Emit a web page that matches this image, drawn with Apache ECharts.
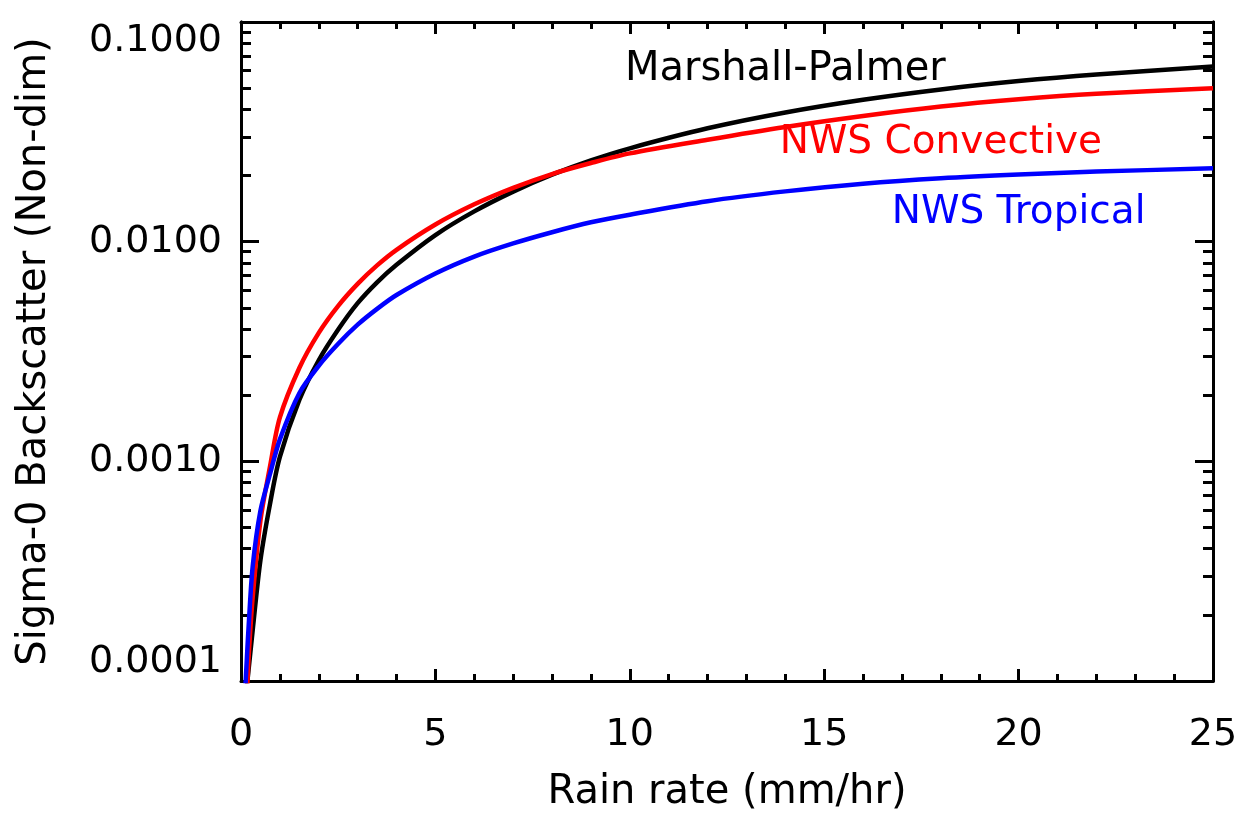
<!DOCTYPE html>
<html>
<head>
<meta charset="utf-8">
<title>Sigma-0 Backscatter vs Rain rate</title>
<script src="https://cdn.jsdelivr.net/npm/echarts@6/dist/echarts.min.js"></script>
<style>
  html, body { margin: 0; padding: 0; background: #ffffff; }
  #chart { width: 1239px; height: 819px; }
</style>
</head>
<body>
<div id="chart"></div>
<script>
// Rain rate samples (mm/hr)
const rainRate = [0.1, 0.15, 0.2, 0.3, 0.5, 0.75, 1, 1.5, 2, 2.5, 3, 3.5, 4, 5, 6, 7, 8, 9, 10, 12, 14, 16, 18, 20, 22, 25];

// Sigma-0 backscatter (non-dimensional) for each drop-size distribution
const marshallPalmer = [7.08e-5, 9.33e-5, 1.148e-4, 1.698e-4, 3.548e-4, 6.457e-4, 1.047e-3, 1.905e-3, 2.884e-3, 3.981e-3, 5.248e-3, 6.53e-3, 7.85e-3,
  1.072e-2, 1.374e-2, 1.690e-2, 2.018e-2, 2.344e-2, 2.661e-2, 3.281e-2, 3.873e-2, 4.426e-2, 4.932e-2, 5.383e-2, 5.768e-2, 6.266e-2];
const nwsConvective = [5.62e-5, 8.51e-5, 1.318e-4, 2.399e-4, 5.37e-4, 9.55e-4, 1.585e-3, 2.661e-3, 3.846e-3, 5.105e-3, 6.427e-3, 7.798e-3, 9.183e-3,
  1.197e-2, 1.479e-2, 1.758e-2, 2.032e-2, 2.280e-2, 2.523e-2, 2.911e-2, 3.327e-2, 3.733e-2, 4.121e-2, 4.446e-2, 4.710e-2, 4.989e-2];
const nwsTropical = [8.51e-5, 1.259e-4, 1.820e-4, 3.311e-4, 5.957e-4, 8.81e-4, 1.259e-3, 2.042e-3, 2.723e-3, 3.428e-3, 4.188e-3, 4.943e-3, 5.715e-3,
  7.161e-3, 8.551e-3, 9.817e-3, 1.104e-2, 1.225e-2, 1.327e-2, 1.528e-2, 1.694e-2, 1.837e-2, 1.945e-2, 2.023e-2, 2.084e-2, 2.158e-2];

// Series names, colours and where their in-plot captions sit (data coordinates)
const seriesNames = ['Marshall-Palmer', 'NWS Convective', 'NWS Tropical'];
const seriesColors = ['#000000', '#ff0000', '#0000ff'];
const captionAt = [[14, 0.0605], [18, 0.0281], [20, 0.0135]];

// Axis ticks
const xRange = [0, 25];
const xStep = 5;
const yMajorTicks = [0.0001, 0.001, 0.01, 0.1];
const yMinorTicks = [];
for (let d = 0; d < yMajorTicks.length - 1; d++) {
  for (let m = 2; m <= 9; m++) yMinorTicks.push(+(yMajorTicks[d] * m).toPrecision(3));
}

const FONT = 'DejaVu Sans';
const INK = '#000000';
const frameLine = { show: true, onZero: false, lineStyle: { color: INK, width: 3 } };

function xAxisDef(pos, withText) {
  return {
    type: 'value', position: pos, min: xRange[0], max: xRange[1], interval: xStep,
    axisLine: frameLine,
    axisTick: { show: true, inside: true, length: 12, lineStyle: { color: INK, width: 3 } },
    minorTick: { show: true, splitNumber: 5, length: 7, lineStyle: { color: INK, width: 3 } },
    splitLine: { show: false },
    axisLabel: withText
      ? { show: true, color: INK, fontFamily: FONT, fontSize: 38, margin: 35 }
      : { show: false },
    name: withText ? 'Rain rate (mm/hr)' : '',
    nameLocation: 'middle', nameGap: 92,
    nameTextStyle: { color: INK, fontFamily: FONT, fontSize: 40 }
  };
}

function yAxisDef(pos, ticks, len, withText) {
  return {
    type: 'log', logBase: 10, position: pos, min: yMajorTicks[0], max: yMajorTicks[yMajorTicks.length - 1],
    axisLine: frameLine,
    axisTick: { show: true, inside: true, length: len, customValues: ticks, lineStyle: { color: INK, width: 3 } },
    minorTick: { show: false },
    splitLine: { show: false },
    axisLabel: withText
      ? {
          show: true, customValues: yMajorTicks, color: INK, fontFamily: FONT, fontSize: 38, margin: 19,
          formatter: v => Number(v).toFixed(4),
          verticalAlignMaxLabel: 'top', verticalAlignMinLabel: 'bottom'
        }
      : { show: false },
    name: withText ? 'Sigma-0 Backscatter (Non-dim)' : '',
    nameLocation: 'middle', nameGap: 186,
    nameTextStyle: { color: INK, fontFamily: FONT, fontSize: 40 }
  };
}

const curves = [marshallPalmer, nwsConvective, nwsTropical];
const series = curves.map((vals, i) => ({
  name: seriesNames[i],
  type: 'line',
  xAxisIndex: 0, yAxisIndex: 0,
  data: rainRate.map((r, k) => [r, vals[k]]),
  showSymbol: false,
  smooth: 0.3,
  clip: true,
  lineStyle: { color: seriesColors[i], width: 4.5 },
  itemStyle: { color: seriesColors[i] },
  z: 2 + i,
  markPoint: {
    symbol: 'circle', symbolSize: 0, silent: true,
    label: {
      show: true, position: 'inside', formatter: seriesNames[i],
      color: seriesColors[i], fontFamily: FONT, fontSize: i === 0 ? 40 : 39
    },
    data: [{ coord: captionAt[i] }]
  }
}));

const chart = echarts.init(document.getElementById('chart'), null, { renderer: 'canvas' });
chart.setOption({
  animation: false,
  backgroundColor: '#ffffff',
  textStyle: { fontFamily: FONT },
  grid: { left: 241, right: 26, top: 22, bottom: 138, containLabel: false, outerBoundsMode: 'none' },
  xAxis: [xAxisDef('bottom', true), xAxisDef('top', false)],
  yAxis: [
    yAxisDef('left', yMajorTicks, 18, true),
    yAxisDef('left', yMinorTicks, 10, false),
    yAxisDef('right', yMajorTicks, 18, false),
    yAxisDef('right', yMinorTicks, 10, false)
  ],
  series: series
});
</script>
</body>
</html>
